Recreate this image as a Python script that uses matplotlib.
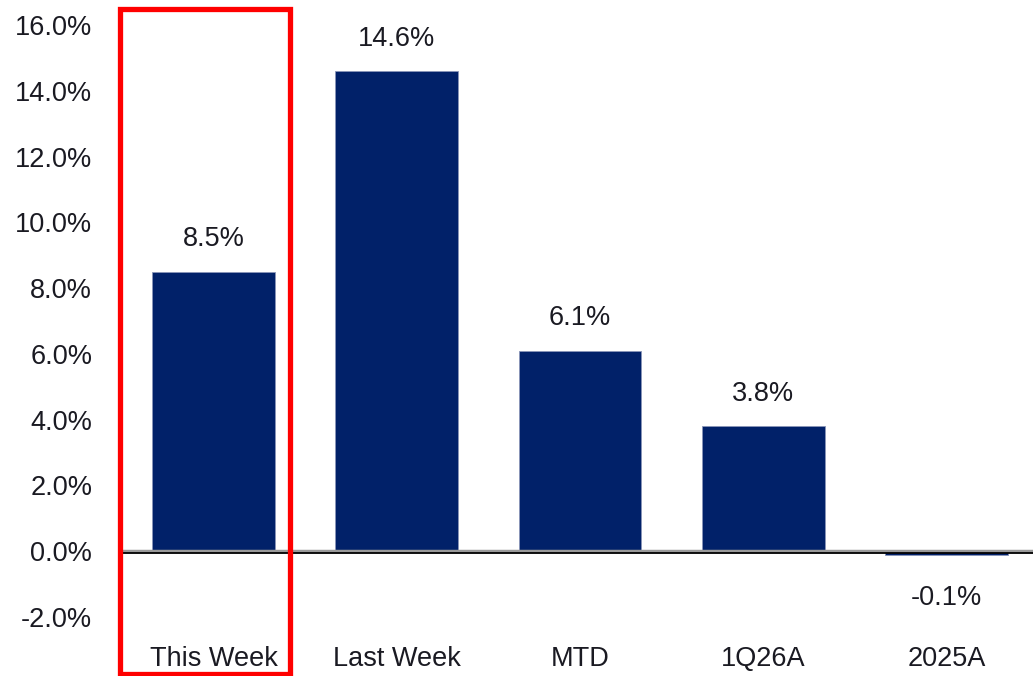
import numpy as np
import matplotlib.pyplot as plt
from matplotlib.patches import Rectangle

categories = ["This Week", "Last Week", "MTD", "1Q26A", "2025A"]
values = [8.5, 14.6, 6.1, 3.8, -0.1]
yticks = [-2, 0, 2, 4, 6, 8, 10, 12, 14, 16]

plt.rcParams["font.family"] = ["Liberation Sans", "DejaVu Sans"]
text_color = "#1a1a22"
fsize = 19.5

fig = plt.figure(figsize=(10.33, 6.76), dpi=100)
# axes spans a bit past the right edge, as in the source image
ax = fig.add_axes([120 / 1033, 1 - 617 / 676, 920 / 1033, 592 / 676])

x = np.arange(len(categories))
ax.bar(x, values, width=0.67, color="#012169", edgecolor="#8a96b8", linewidth=0.6, zorder=2)
ax.axhline(0, color="#9a9a9a", linewidth=2.5, zorder=3)
ax.axhline(-0.06, color="black", linewidth=1.3, zorder=3)

for xi, v in zip(x, values):
    if v >= 0:
        ax.annotate(f"{v:.1f}%", (xi, v), xytext=(0, 14), textcoords="offset points",
                    ha="center", va="bottom", fontsize=fsize, color=text_color)
    else:
        ax.annotate(f"{v:.1f}%", (xi, v), xytext=(0, -22), textcoords="offset points",
                    ha="center", va="top", fontsize=fsize, color=text_color)

ax.set_xlim(-0.51, len(categories) - 0.49)
ax.set_ylim(-2, 16)
ax.set_yticks(yticks)
ax.set_yticklabels([f"{t:.1f}%" for t in yticks])
ax.set_xticks(x)
ax.set_xticklabels(categories)
ax.tick_params(axis="y", length=0, pad=20, labelsize=fsize, labelcolor=text_color)
ax.tick_params(axis="x", length=0, pad=21, labelsize=fsize, labelcolor=text_color)
for s in ax.spines.values():
    s.set_visible(False)

# red highlight box round the first category
fig.patches.append(Rectangle((120 / 1033, 1 - 674 / 676), 170 / 1033, 665 / 676,
                             transform=fig.transFigure, fill=False,
                             edgecolor="#ff0000", linewidth=3.8, zorder=5))

fig.savefig("out.png", dpi=100)
